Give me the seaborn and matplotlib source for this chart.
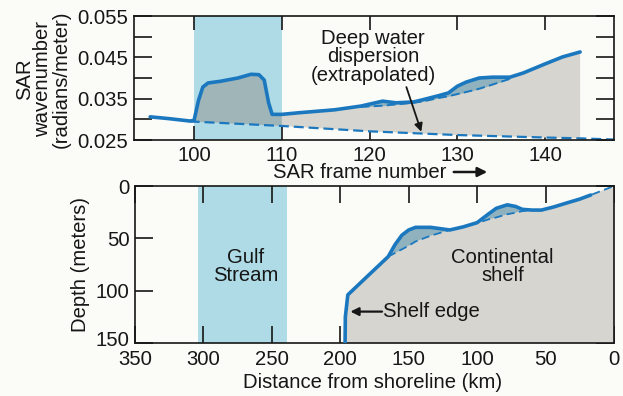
import numpy as np
import pandas as pd
import matplotlib
matplotlib.use("Agg")
import matplotlib.pyplot as plt
import matplotlib.transforms as mtrans
import seaborn as sns

# ---------------- data ----------------
# Top panel: SAR wavenumber vs SAR frame number
frame = [95, 97, 99.5, 100.0, 100.5, 101.0, 101.6, 103, 105, 106.5, 107.4, 108.0, 108.5, 108.9,
         110, 112, 116, 119, 121.5, 123, 125, 126, 128, 129, 130, 131, 132.5, 134, 136, 137.5,
         140, 142, 144]
wavenumber = [0.0306, 0.0302, 0.0296, 0.0297, 0.0345, 0.0378, 0.0388, 0.0392, 0.0400, 0.0409,
              0.0408, 0.0395, 0.0340, 0.0312, 0.0312, 0.0316, 0.0323, 0.0332, 0.0344, 0.0340,
              0.0342, 0.0347, 0.0358, 0.0364, 0.0380, 0.0390, 0.0400, 0.0402, 0.0402, 0.0412,
              0.0434, 0.0451, 0.0463]
# smooth trend under the bumps (dashed)
trend_frame = [119, 121.5, 123, 125, 126, 128, 129, 130, 131, 132.5, 134, 136]
trend_wave = [0.0330, 0.0333, 0.0336, 0.0340, 0.0343, 0.0352, 0.0356, 0.0361, 0.0366, 0.0374,
              0.0384, 0.0398]
# deep water dispersion (extrapolated)
deep_frame = [99.5, 110, 120, 130, 140, 144, 148]
deep_wave = [0.0295, 0.0284, 0.0271, 0.0262, 0.0256, 0.0254, 0.0251]
gulf_frames = [100, 110]

# Bottom panel: depth profile vs distance from shoreline
dist = [196.5, 196.3, 194.5, 180, 165, 160, 155, 150, 145, 134, 120, 110, 100, 92, 86, 78, 72,
        67, 60, 53, 44, 34, 25, 17]
depth = [150, 125, 104, 86, 67.5, 56, 47, 42, 39.5, 39.5, 42, 39, 35, 27, 21.3, 18, 19.5, 22.3,
         23, 23, 20, 16, 12.5, 8.6]
shelf_dist = [165, 160, 155, 150, 145, 134, 120, 110, 100, 92, 86, 78, 72, 67, 60, 53, 44, 34,
              25, 17, 0]
shelf_depth = [67.5, 64, 60.5, 57, 53, 47.5, 42, 39, 35.5, 32, 30, 27, 25.5, 24, 23, 23, 20, 16,
               12.5, 8.6, 0]
gulf_km = [304, 239]

top_yticks = [0.025, 0.035, 0.045, 0.055]
top_yticklabels = ["0.025", "0.035", "0.045", "0.055"]
top_xticks = [100, 110, 120, 130, 140]
bot_xticks = [350, 300, 250, 200, 150, 100, 50, 0]
bot_yticks = [0, 50, 100, 150]

# ---------------- style ----------------
sns.set_theme(style="ticks")
plt.rcParams["font.family"] = ["Liberation Sans", "DejaVu Sans"]
FS = 14.6
BG = "#fbfbf8"
BLUE = "#1b78bf"
BAND = "#aedbe6"
GRAY = "#d6d5cf"
GRAYBAND = "#9fb5b8"
BUMP = "#8fb2be"
INK = "#161616"

fig = plt.figure(figsize=(6.23, 3.96), dpi=100, facecolor=BG)
ax1 = fig.add_axes([134 / 623, 1 - 140 / 396, 480 / 623, 124 / 396])
ax2 = fig.add_axes([135 / 623, 1 - 343 / 396, 479 / 623, 157 / 396])

for ax in (ax1, ax2):
    ax.set_facecolor(BG)
    for s in ax.spines.values():
        s.set_linewidth(1.2)
        s.set_color(INK)

# ---------- top panel ----------
top = pd.DataFrame({"frame": frame, "wave": wavenumber})
deep = pd.DataFrame({"frame": deep_frame, "wave": deep_wave})
tr = pd.DataFrame({"frame": trend_frame, "wave": trend_wave})

ax1.axvspan(gulf_frames[0], gulf_frames[1], color=BAND, lw=0, zorder=0)

seg = top[(top.frame >= 100) & (top.frame <= 144)]
dseg = deep[(deep.frame <= 144)].iloc[::-1]
ax1.fill(np.r_[seg.frame.values, dseg.frame.values], np.r_[seg.wave.values, dseg.wave.values],
         color=GRAY, lw=0, zorder=1)
segb = top[(top.frame >= 100) & (top.frame <= 110)]
dsegb = deep[(deep.frame <= 110)].iloc[::-1]
ax1.fill(np.r_[segb.frame.values, dsegb.frame.values], np.r_[segb.wave.values, dsegb.wave.values],
         color=GRAYBAND, lw=0, zorder=1.2)

sub = top[top.frame.isin(trend_frame)].reset_index(drop=True)
ax1.fill_between(sub.frame, sub.wave, tr.wave, where=sub.wave.values > tr.wave.values,
                 interpolate=True, color=BUMP, lw=0, zorder=1.4)

sns.lineplot(data=deep, x="frame", y="wave", ax=ax1, color=BLUE, lw=1.6, sort=False,
             estimator=None, zorder=2)
ax1.lines[-1].set_dashes((4.5, 2.2))
sns.lineplot(data=tr, x="frame", y="wave", ax=ax1, color=BLUE, lw=1.4, sort=False,
             estimator=None, zorder=2)
ax1.lines[-1].set_dashes((4.5, 2.2))
sns.lineplot(data=top, x="frame", y="wave", ax=ax1, color=BLUE, lw=2.6, sort=False,
             estimator=None, zorder=3)
ax1.lines[-1].set_solid_capstyle("round")
ax1.lines[-1].set_solid_joinstyle("round")

ax1.set_xlim(93.16, 147.86)
ax1.set_ylim(0.025, 0.055)
ax1.set_xticks(top_xticks)
ax1.set_xticklabels([str(t) for t in top_xticks], fontsize=FS)
ax1.set_yticks(top_yticks)
ax1.set_yticklabels(top_yticklabels, fontsize=FS)
ax1.set_yticks([0.030, 0.040, 0.050], minor=True)
ax1.tick_params(axis="x", which="major", direction="in", length=10, width=1.2, top=True,
                bottom=True, pad=4, colors=INK)
ax1.tick_params(axis="y", which="both", direction="in", length=13, width=1.2, left=True,
                right=True, pad=4, colors=INK)
ax1.set_xlabel("")
ax1.set_ylabel("")

ax1.text(120.4, 0.0451, "Deep water\ndispersion\n(extrapolated)", ha="center", va="center",
         fontsize=FS, linespacing=0.98, color=INK, zorder=5)
ax1.annotate("", xy=(125.9, 0.0270), xytext=(124.2, 0.0378),
             arrowprops=dict(arrowstyle="-|>", color=INK, lw=1.3,
                             mutation_scale=12, shrinkA=0, shrinkB=0), zorder=5)

fig.text(360 / 623, 1 - 173 / 396, "SAR frame number", ha="center", va="center", fontsize=FS,
         color=INK)
fig.add_artist(matplotlib.patches.FancyArrowPatch(
    (451 / 623, 1 - 172 / 396), (490 / 623, 1 - 172 / 396), transform=fig.transFigure,
    arrowstyle="-|>", mutation_scale=14, lw=1.8, color=INK))
fig.text(43 / 623, 1 - 79 / 396, "SAR\nwavenumber\n(radians/meter)", rotation=90,
         ha="center", va="center", multialignment="center", fontsize=FS, linespacing=0.98,
         color=INK)

# ---------- bottom panel ----------
prof = pd.DataFrame({"dist": dist, "depth": depth})
shelf = pd.DataFrame({"dist": shelf_dist, "depth": shelf_depth})

ax2.axvspan(gulf_km[0], gulf_km[1], color=BAND, lw=0, zorder=0)
poly_x = np.r_[prof.dist.values, shelf.dist.values[-1:], shelf.dist.values[-1:]]
poly_y = np.r_[prof.depth.values, shelf.depth.values[-1:], [max(bot_yticks)]]
ax2.fill(poly_x, poly_y, color=GRAY, lw=0, zorder=1)

subp = prof[prof.dist.isin(shelf_dist)].set_index("dist")
subs = shelf.set_index("dist").loc[subp.index]
ax2.fill_between(subp.index.values, subp.depth.values, subs.depth.values,
                 where=subp.depth.values < subs.depth.values, interpolate=True,
                 color=BUMP, lw=0, zorder=1.4)

sns.lineplot(data=shelf, x="dist", y="depth", ax=ax2, color=BLUE, lw=1.3, sort=False,
             estimator=None, zorder=2)
ax2.lines[-1].set_dashes((4.5, 2.5))
sns.lineplot(data=prof, x="dist", y="depth", ax=ax2, color=BLUE, lw=2.6, sort=False,
             estimator=None, zorder=3)
ax2.lines[-1].set_solid_joinstyle("round")

ax2.set_xlim(347.1, 0)
ax2.set_ylim(150, 0)
ax2.set_xticks(bot_xticks)
ax2.set_xticklabels([str(t) for t in bot_xticks], fontsize=FS)
ax2.set_yticks(bot_yticks)
ax2.set_yticklabels([str(t) for t in bot_yticks], fontsize=FS)
ax2.tick_params(axis="x", direction="in", length=12, width=1.2, top=True, bottom=True, pad=5,
                colors=INK)
ax2.tick_params(axis="y", direction="in", length=13, width=1.2, left=True, right=True, pad=4,
                colors=INK)
ax2.set_xlabel("")
ax2.set_ylabel("")
# lift the lowest depth label slightly, as in the original, so it clears "350"
lift = mtrans.ScaledTranslation(0, 5 / 100, fig.dpi_scale_trans)
lbl = ax2.get_yticklabels()[-1]
lbl.set_transform(lbl.get_transform() + lift)

ax2.text(269, 77, "Gulf\nStream", ha="center", va="center", fontsize=FS, linespacing=0.98,
         color=INK, zorder=5)
ax2.text(81.4, 77, "Continental\nshelf", ha="center", va="center", fontsize=FS,
         linespacing=0.98, color=INK, zorder=5)
ax2.text(168.6, 120, "Shelf edge", ha="left", va="center", fontsize=FS, color=INK,
         zorder=5)
ax2.annotate("", xy=(192.6, 120), xytext=(169.5, 120),
             arrowprops=dict(arrowstyle="-|>", color=INK, lw=1.6, mutation_scale=12,
                             shrinkA=0, shrinkB=0), zorder=5)

fig.text(81 / 623, 1 - 264 / 396, "Depth (meters)", rotation=90, ha="center", va="center",
         fontsize=FS, color=INK)
fig.text(373 / 623, 1 - 383 / 396, "Distance from shoreline (km)", ha="center", va="center",
         fontsize=FS, color=INK)

fig.savefig("out.png", dpi=100, facecolor=BG)
